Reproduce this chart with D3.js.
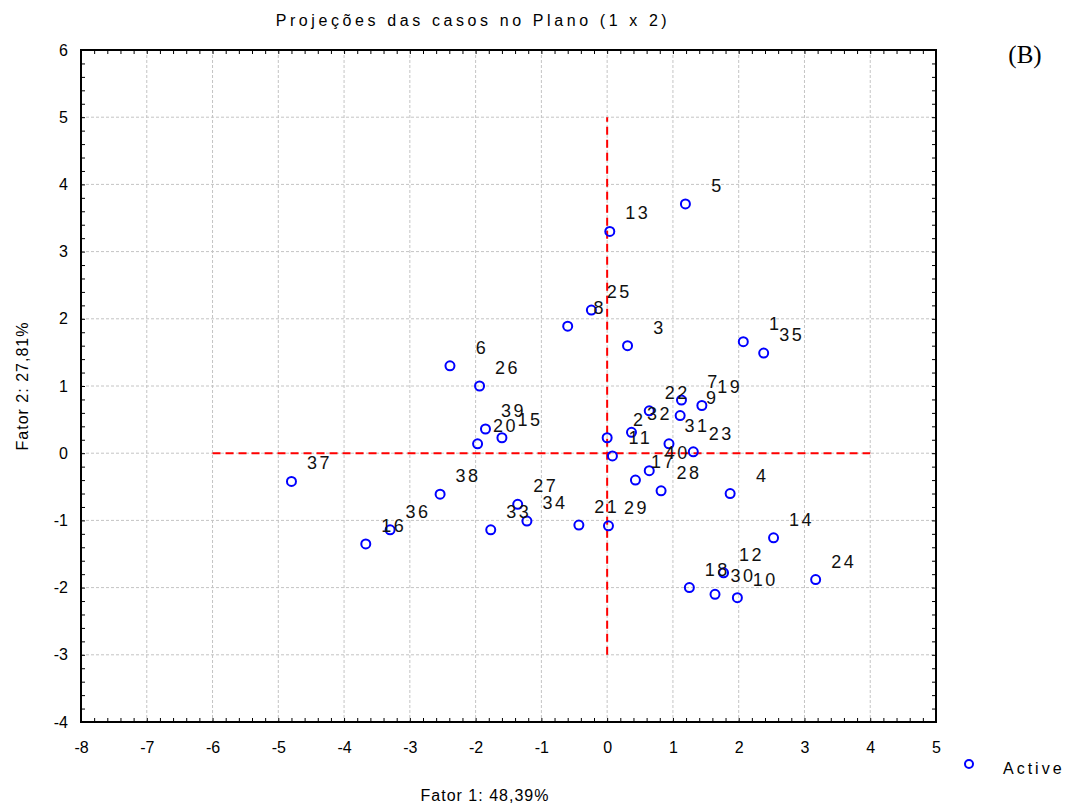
<!DOCTYPE html>
<html lang="pt">
<head>
    <meta charset="UTF-8">
    <title>Projeções das casos no Plano (1 x 2)</title>
    <script src="https://d3js.org/d3.v7.min.js"></script>
    <style>
        body { margin: 0; background: #fff; }
        svg { display: block; font-family: Arial, "Liberation Sans", sans-serif; }
    </style>
</head>
<body>
    <svg id="chart" width="1076" height="807"></svg>
    <script>
        // case labels and their projections on factors 1 and 2
        const caseIds = [1, 2, 3, 4, 5, 6, 7, 8, 9, 10,
                         11, 12, 13, 14, 15, 16, 17, 18, 19, 20,
                         21, 22, 23, 24, 25, 26, 27, 28, 29, 30,
                         31, 32, 33, 34, 35, 36, 37, 38, 39, 40];
        const factor1 = [2.07, 0.00, 0.31, 1.87, 1.19, -2.39, 1.13, -0.60, 1.11, 1.98,
                         0.08, 1.77, 0.04, 2.53, -1.60, -3.67, 0.43, 1.25, 1.44, -1.97,
                         -0.43, 0.64, 1.31, 3.17, -0.24, -1.94, -1.36, 0.82, 0.02, 1.64,
                         0.94, 0.37, -1.77, -1.22, 2.38, -3.30, -4.80, -2.54, -1.85, 0.64];
        const factor2 = [1.66, 0.23, 1.60, -0.60, 3.71, 1.30, 0.79, 1.89, 0.56, -2.15,
                         -0.04, -1.78, 3.30, -1.26, 0.23, -1.35, -0.40, -2.00, 0.71, 0.14,
                         -1.07, 0.63, 0.02, -1.88, 2.13, 1.00, -0.76, -0.56, -1.08, -2.10,
                         0.14, 0.31, -1.14, -1.01, 1.49, -1.14, -0.42, -0.61, 0.36, -0.26];

        const xTicks = [-8, -7, -6, -5, -4, -3, -2, -1, 0, 1, 2, 3, 4, 5];
        const yTicks = [-4, -3, -2, -1, 0, 1, 2, 3, 4, 5, 6];

        // red reference lines through the origin
        const hRef = { y: 0, from: -6, to: 4 };
        const vRef = { x: 0, from: -3, to: 5 };

        const svg = d3.select('#chart');
        const plotLeft = 81, plotRight = 936, plotTop = 50, plotBottom = 722;

        const x = d3.scaleLinear().domain([-8, 5]).range([plotLeft, plotRight]);
        const y = d3.scaleLinear().domain([-4, 6]).range([plotBottom, plotTop]);

        // grid
        svg.append('g').selectAll('line')
            .data(xTicks.slice(1, -1))
            .join('line')
            .attr('x1', d => x(d)).attr('x2', d => x(d))
            .attr('y1', plotTop).attr('y2', plotBottom)
            .attr('stroke', '#c4c4c4').attr('stroke-dasharray', '3,2');
        svg.append('g').selectAll('line')
            .data(yTicks.slice(1, -1))
            .join('line')
            .attr('y1', d => y(d)).attr('y2', d => y(d))
            .attr('x1', plotLeft).attr('x2', plotRight)
            .attr('stroke', '#c4c4c4').attr('stroke-dasharray', '3,2');

        // minor ticks (inside) on all four sides
        const minorX = d3.range(0, 66).map(i => -8 + i * 0.2);
        const minorY = d3.range(0, 51).map(i => -4 + i * 0.2);
        const tick = (axis, tr) => svg.append('g').attr('transform', tr)
            .call(axis.tickSize(-4).tickFormat(''))
            .call(g => g.select('.domain').remove())
            .call(g => g.selectAll('line').attr('stroke', '#000'));
        tick(d3.axisBottom(x).tickValues(minorX), `translate(0,${plotBottom})`);
        tick(d3.axisTop(x).tickValues(minorX), `translate(0,${plotTop})`);
        tick(d3.axisLeft(y).tickValues(minorY), `translate(${plotLeft},0)`);
        tick(d3.axisRight(y).tickValues(minorY), `translate(${plotRight},0)`);

        // frame
        svg.append('rect')
            .attr('x', plotLeft).attr('y', plotTop)
            .attr('width', plotRight - plotLeft).attr('height', plotBottom - plotTop)
            .attr('fill', 'none').attr('stroke', '#000').attr('stroke-width', 2);

        // tick labels (plain hyphen for negatives, as in the original)
        svg.append('g').attr('transform', `translate(0,${plotBottom})`)
            .call(d3.axisBottom(x).tickValues(xTicks).tickSize(0).tickPadding(20).tickFormat(d => String(d)))
            .call(g => g.select('.domain').remove())
            .call(g => g.selectAll('text').attr('font-size', 16).attr('fill', '#000')
                .attr('font-family', 'Arial, "Liberation Sans", sans-serif'));
        svg.append('g').attr('transform', `translate(${plotLeft},0)`)
            .call(d3.axisLeft(y).tickValues(yTicks).tickSize(0).tickPadding(13).tickFormat(d => String(d)))
            .call(g => g.select('.domain').remove())
            .call(g => g.selectAll('text').attr('font-size', 16).attr('fill', '#000')
                .attr('font-family', 'Arial, "Liberation Sans", sans-serif'));

        // reference lines
        svg.append('line')
            .attr('x1', x(hRef.from)).attr('x2', x(hRef.to))
            .attr('y1', y(hRef.y)).attr('y2', y(hRef.y))
            .attr('stroke', '#ff0000').attr('stroke-width', 2).attr('stroke-dasharray', '8,5');
        svg.append('line')
            .attr('x1', x(vRef.x)).attr('x2', x(vRef.x))
            .attr('y1', y(vRef.from)).attr('y2', y(vRef.to))
            .attr('stroke', '#ff0000').attr('stroke-width', 2).attr('stroke-dasharray', '8,5');

        const cases = caseIds.map((id, i) => ({ id, f1: factor1[i], f2: factor2[i] }));

        // points
        svg.append('g').selectAll('circle')
            .data(cases)
            .join('circle')
            .attr('cx', d => x(d.f1)).attr('cy', d => y(d.f2))
            .attr('r', 4.5)
            .attr('fill', 'none').attr('stroke', '#0000ff').attr('stroke-width', 2);

        // case labels, upper right of each point
        svg.append('g').selectAll('text')
            .data(cases)
            .join('text')
            .attr('x', d => x(d.f1) + (String(d.id).length > 1 ? 28 : 32))
            .attr('y', d => y(d.f2) - 12)
            .attr('text-anchor', 'middle')
            .attr('font-size', 18).attr('letter-spacing', 2.5)
            .attr('fill', '#111')
            .text(d => d.id);

        // titles
        svg.append('text')
            .attr('x', 473).attr('y', 26)
            .attr('text-anchor', 'middle').attr('font-size', 16).attr('letter-spacing', 3.6)
            .text('Projeções das casos no Plano (1 x 2)');
        svg.append('text')
            .attr('x', 485).attr('y', 801)
            .attr('text-anchor', 'middle').attr('font-size', 16).attr('letter-spacing', 1)
            .text('Fator 1: 48,39%');
        svg.append('text')
            .attr('transform', `translate(28,${(plotTop + plotBottom) / 2}) rotate(-90)`)
            .attr('text-anchor', 'middle').attr('font-size', 16).attr('letter-spacing', 1)
            .text('Fator 2: 27,81%');
        svg.append('text')
            .attr('x', 1025).attr('y', 63)
            .attr('text-anchor', 'middle').attr('font-size', 25)
            .attr('font-family', '"Liberation Serif", "Times New Roman", serif')
            .text('(B)');

        // legend
        svg.append('circle')
            .attr('cx', 969).attr('cy', 764).attr('r', 4)
            .attr('fill', 'none').attr('stroke', '#0000ff').attr('stroke-width', 2);
        svg.append('text')
            .attr('x', 1003).attr('y', 774)
            .attr('font-size', 16).attr('letter-spacing', 3)
            .text('Active');
    </script>
</body>
</html>
